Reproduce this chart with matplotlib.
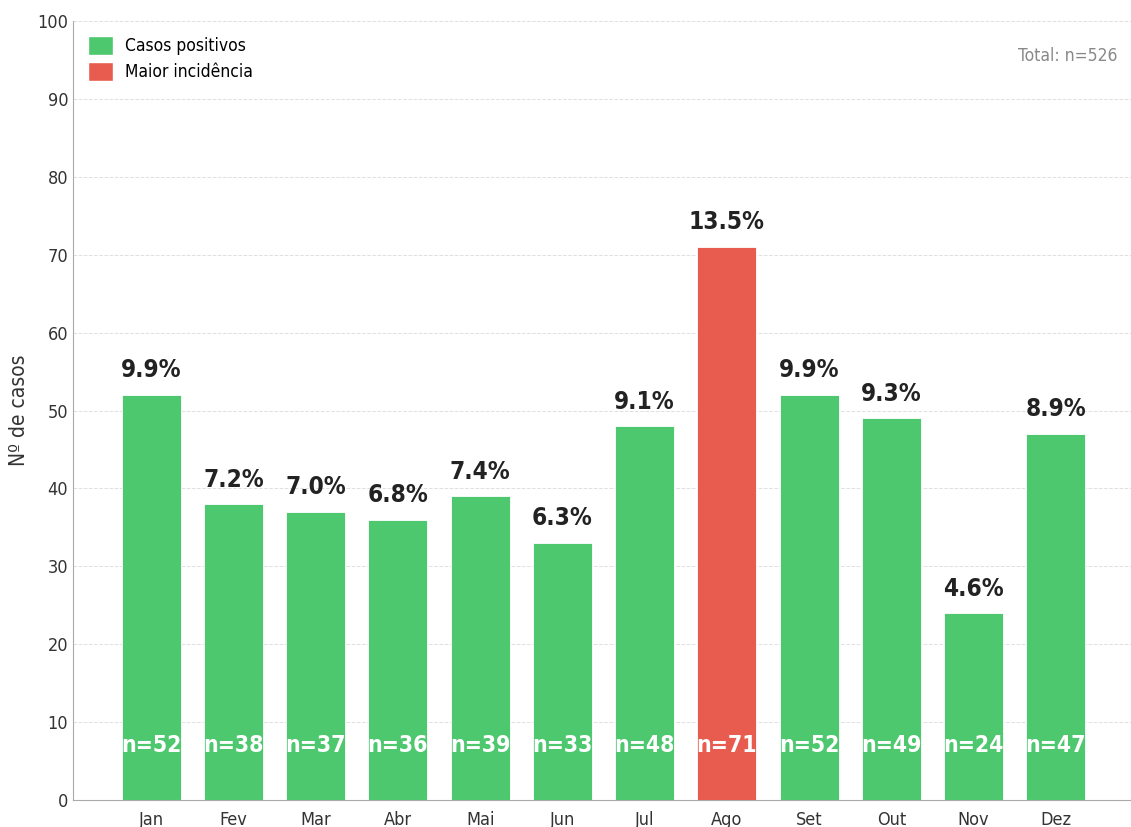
import numpy as np
import matplotlib
matplotlib.use("Agg")
import matplotlib.pyplot as plt
from matplotlib.patches import Patch

plt.rcParams["font.family"] = ["DejaVu Sans"]
plt.rcParams["font.stretch"] = "condensed"

meses = ["Jan", "Fev", "Mar", "Abr", "Mai", "Jun", "Jul", "Ago", "Set", "Out", "Nov", "Dez"]
casos = [52, 38, 37, 36, 39, 33, 48, 71, 52, 49, 24, 47]
percent = ["9.9%", "7.2%", "7.0%", "6.8%", "7.4%", "6.3%", "9.1%", "13.5%", "9.9%", "9.3%", "4.6%", "8.9%"]
total = 526

verde = "#4dc86f"
vermelho = "#e85c50"
cores = [vermelho if c == max(casos) else verde for c in casos]

fig = plt.figure(figsize=(11.31, 8.27), dpi=100)
ax = fig.add_axes([73 / 1131, 27 / 827, 1061 / 1131, 779 / 827])

x = np.arange(len(meses))
ax.bar(x, casos, width=0.72, color=cores, edgecolor="white", linewidth=0.6, zorder=3)

for i, c in enumerate(casos):
    ax.text(i, c + 1.6, percent[i], ha="center", va="bottom", fontsize=17.5,
            fontweight="bold", color="#222222", zorder=4)
    ax.text(i, 7, "n=%d" % c, ha="center", va="center", fontsize=16.5,
            fontweight="bold", color="white", zorder=4)

ax.set_xlim(-0.95, 11.95)
ax.set_ylim(0, 100)
ax.set_yticks(range(0, 101, 10))
ax.set_xticks(x)
ax.set_xticklabels(meses)
ax.tick_params(axis="both", length=0, labelsize=13, labelcolor="#333333")
ax.tick_params(axis="x", pad=8)
ax.set_ylabel("Nº de casos", fontsize=15, color="#333333")
ax.yaxis.set_label_coords(-0.041, 0.5)

ax.grid(axis="y", linestyle="--", color="#e0e0e0", linewidth=0.7, zorder=0)
ax.set_axisbelow(True)
for s in ["top", "right"]:
    ax.spines[s].set_visible(False)
for s in ["left", "bottom"]:
    ax.spines[s].set_color("#aaaaaa")

handles = [Patch(facecolor=verde, edgecolor="white", label="Casos positivos"),
           Patch(facecolor=vermelho, edgecolor="white", label="Maior incidência")]
ax.legend(handles=handles, loc="upper left", frameon=False, fontsize=12.5,
          handlelength=1.45, handleheight=1.3, handletextpad=0.7,
          labelspacing=0.4, borderaxespad=0.45)

fig.text(1117 / 1131, 1 - 56 / 827, "Total: n=%d" % total, ha="right", va="center",
         fontsize=12.5, color="#888888")

fig.savefig("out.png", dpi=100)
